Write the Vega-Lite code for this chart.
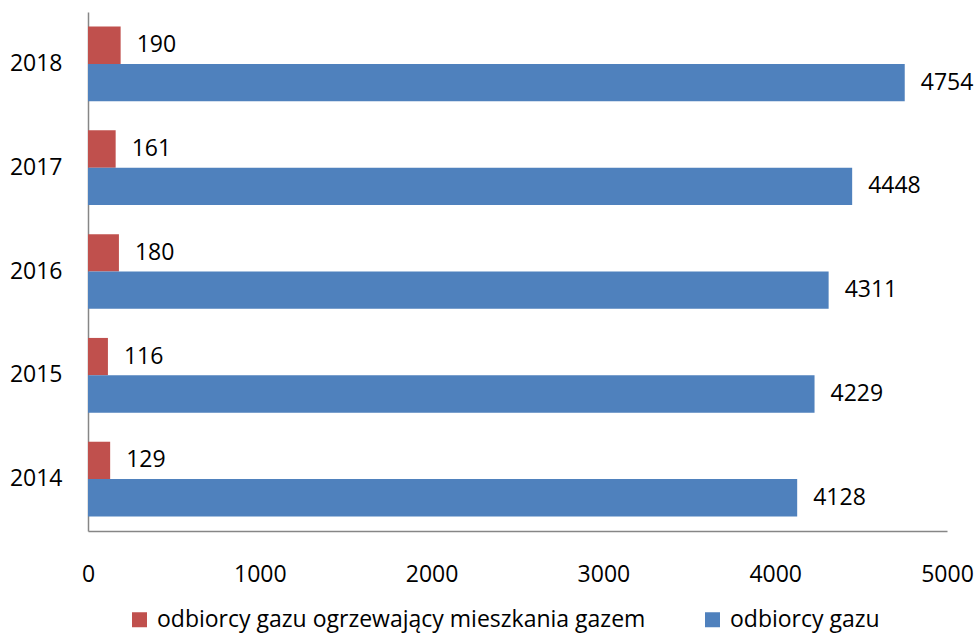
{
  "$schema": "https://vega.github.io/schema/vega-lite/v6.json",
  "width": 859,
  "height": 519,
  "autosize": {"type": "none"},
  "padding": {"left": 88, "top": 12, "right": 30, "bottom": 102},
  "background": "white",
  "config": {
    "font": "Open Sans",
    "view": {"stroke": null},
    "axis": {"labelFont": "Open Sans", "labelFontSize": 23, "labelColor": "#000000", "grid": false, "ticks": false, "domainColor": "#868686", "domainWidth": 1.5, "title": null}
  },
  "data": {
    "values": [
      {"rok": "2018", "seria": "odbiorcy gazu ogrzewający mieszkania gazem", "wartosc": 190},
      {"rok": "2018", "seria": "odbiorcy gazu", "wartosc": 4754},
      {"rok": "2017", "seria": "odbiorcy gazu ogrzewający mieszkania gazem", "wartosc": 161},
      {"rok": "2017", "seria": "odbiorcy gazu", "wartosc": 4448},
      {"rok": "2016", "seria": "odbiorcy gazu ogrzewający mieszkania gazem", "wartosc": 180},
      {"rok": "2016", "seria": "odbiorcy gazu", "wartosc": 4311},
      {"rok": "2015", "seria": "odbiorcy gazu ogrzewający mieszkania gazem", "wartosc": 116},
      {"rok": "2015", "seria": "odbiorcy gazu", "wartosc": 4229},
      {"rok": "2014", "seria": "odbiorcy gazu ogrzewający mieszkania gazem", "wartosc": 129},
      {"rok": "2014", "seria": "odbiorcy gazu", "wartosc": 4128}
    ]
  },
  "encoding": {
    "y": {"field": "rok", "type": "nominal", "sort": "descending",
      "scale": {"paddingInner": 0.28, "paddingOuter": 0.14},
      "axis": {"labelPadding": 26, "domain": true}},
    "yOffset": {"field": "seria", "type": "nominal",
      "scale": {"domain": ["odbiorcy gazu ogrzewający mieszkania gazem", "odbiorcy gazu"], "paddingInner": 0, "paddingOuter": 0}},
    "x": {"field": "wartosc", "type": "quantitative",
      "scale": {"domain": [0, 5000], "nice": false},
      "axis": {"values": [0, 1000, 2000, 3000, 4000, 5000], "format": "d", "labelPadding": 32, "labelFlush": false}}
  },
  "layer": [
    {
      "mark": {"type": "bar"},
      "encoding": {
        "color": {"field": "seria", "type": "nominal",
          "scale": {"domain": ["odbiorcy gazu ogrzewający mieszkania gazem", "odbiorcy gazu"], "range": ["#C0504D", "#4F81BD"]},
          "legend": {"title": null, "orient": "none", "direction": "horizontal", "legendX": 40, "legendY": 596,
            "labelFont": "Open Sans", "labelFontSize": 23, "labelColor": "#000000", "symbolType": "square", "symbolSize": 225,
            "symbolStrokeWidth": 0, "columnPadding": 55, "labelLimit": 700, "labelOffset": 6}}
      }
    },
    {
      "mark": {"type": "text", "align": "left", "baseline": "middle", "dx": 16, "font": "Open Sans", "fontSize": 23, "color": "#000000"},
      "encoding": {"text": {"field": "wartosc", "type": "quantitative"}}
    }
  ]
}
